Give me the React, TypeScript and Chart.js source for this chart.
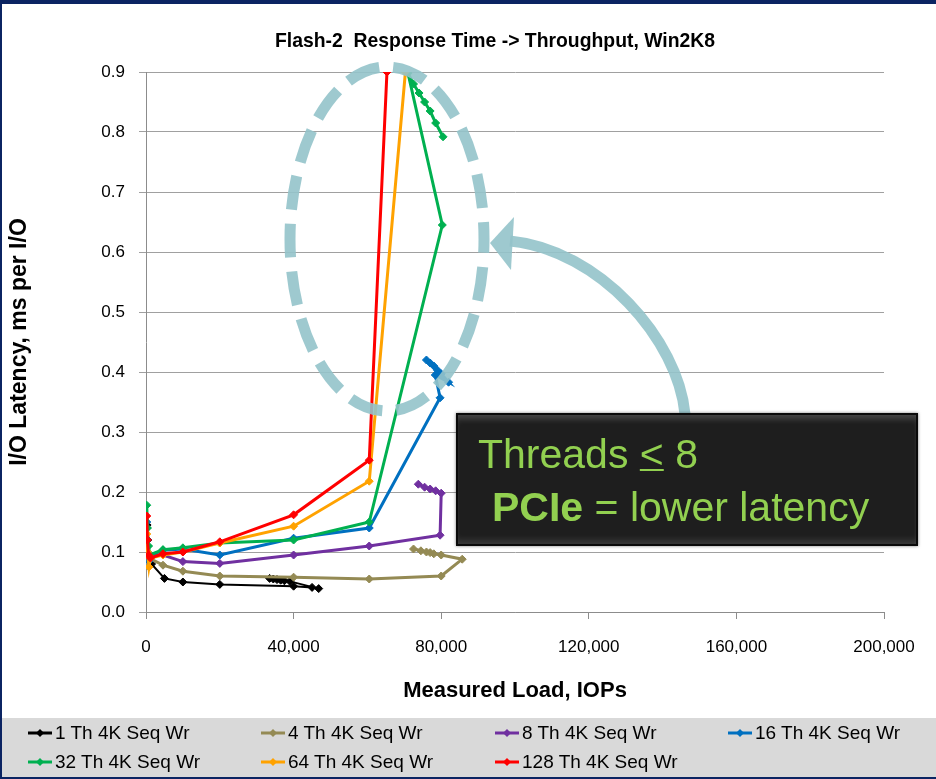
import React, { useEffect, useRef } from 'react';
import { Chart, registerables } from 'chart.js';

Chart.register(...registerables);

const TITLE = 'Flash-2  Response Time -> Throughput, Win2K8';
const X_TITLE = 'Measured Load, IOPs';
const Y_TITLE = 'I/O Latency, ms per I/O';

const seriesNames = [
  '1 Th 4K Seq Wr',
  '4 Th 4K Seq Wr',
  '8 Th 4K Seq Wr',
  '16 Th 4K Seq Wr',
  '32 Th 4K Seq Wr',
  '64 Th 4K Seq Wr',
  '128 Th 4K Seq Wr',
];
const seriesColors = ['#000000', '#948A54', '#7030A0', '#0070C0', '#00B050', '#FFA200', '#FF0000'];

const th1X = [300, 500, 800, 1500, 5000, 10000, 20000, 40000, 45000, 46800, 39000, 37500, 36500, 35500, 34500, 33500];
const th1Y = [0.145, 0.12, 0.09, 0.08, 0.056, 0.05, 0.046, 0.043, 0.041, 0.039, 0.051, 0.052, 0.053, 0.054, 0.055, 0.056];

const th4X = [200, 400, 800, 4600, 10000, 20000, 40000, 60500, 80000, 85700, 80000, 78000, 77000, 76000, 74500, 72500];
const th4Y = [0.12, 0.1, 0.09, 0.078, 0.068, 0.06, 0.058, 0.055, 0.06, 0.088, 0.095, 0.097, 0.099, 0.1, 0.102, 0.105];

const th8X = [200, 400, 900, 4600, 10000, 20000, 40000, 60500, 79700, 80000, 78500, 77000, 75500, 73800];
const th8Y = [0.14, 0.11, 0.095, 0.095, 0.084, 0.081, 0.095, 0.11, 0.128, 0.198, 0.202, 0.205, 0.208, 0.213];

const th16X = [200, 400, 800, 1200, 4600, 10000, 20000, 40000, 60500, 79700, 78400, 82000, 80000, 79000, 78000, 77000, 76000];
const th16Y = [0.15, 0.12, 0.085, 0.095, 0.103, 0.105, 0.095, 0.123, 0.14, 0.357, 0.395, 0.383, 0.397, 0.403, 0.41, 0.415, 0.42];

const th32X = [200, 400, 700, 1000, 4600, 10000, 20000, 40000, 60500, 80300, 71000, 72500, 74000, 75500, 77000, 78500, 80500];
const th32Y = [0.178, 0.14, 0.11, 0.095, 0.104, 0.107, 0.115, 0.12, 0.15, 0.645, 0.898, 0.88, 0.865, 0.85, 0.835, 0.815, 0.792];

const th64X = [200, 400, 800, 1200, 4600, 10000, 20000, 40000, 60500, 70300];
const th64Y = [0.13, 0.1, 0.075, 0.09, 0.095, 0.1, 0.115, 0.143, 0.218, 0.9];

const th128X = [200, 400, 700, 1200, 4600, 10000, 20000, 40000, 60500, 65300];
const th128Y = [0.16, 0.12, 0.095, 0.09, 0.097, 0.1, 0.117, 0.162, 0.253, 0.9];

const seriesX = [th1X, th4X, th8X, th16X, th32X, th64X, th128X];
const seriesY = [th1Y, th4Y, th8Y, th16Y, th32Y, th64Y, th128Y];

const X_MIN = 0;
const X_MAX = 200000;
const X_STEP = 40000;
const Y_MIN = 0;
const Y_MAX = 0.9;
const Y_STEP = 0.1;

const FONT = '"Liberation Sans", Arial, sans-serif';
const NAVY = '#0B2462';

const titlePlugin = {
  id: 'customTitle',
  afterDraw(chart: any) {
    const ctx = chart.ctx;
    ctx.save();
    ctx.font = `bold 21px ${FONT}`;
    const w = ctx.measureText(TITLE).width;
    const sx = 440 / w;
    ctx.translate(495, 41);
    ctx.scale(sx, 1);
    ctx.textAlign = 'center';
    ctx.textBaseline = 'middle';
    ctx.fillStyle = '#000';
    ctx.fillText(TITLE, 0, 0);
    ctx.restore();
  },
};

function LegendItem({ name, color, left, top }: { name: string; color: string; left: number; top: number }) {
  return (
    <div style={{ position: 'absolute', left, top: top - 12, height: 24, display: 'flex', alignItems: 'center', whiteSpace: 'nowrap' }}>
      <svg width={26} height={24} style={{ display: 'block' }}>
        <line x1={1} y1={12} x2={25} y2={12} stroke={color} strokeWidth={3} />
        <polygon points="13,8 17,12 13,16 9,12" fill={color} />
      </svg>
      <span style={{ fontFamily: FONT, fontSize: 19, color: '#000', marginLeft: 2, lineHeight: '24px' }}>{name}</span>
    </div>
  );
}

export default function App() {
  const canvasRef = useRef<HTMLCanvasElement | null>(null);

  useEffect(() => {
    document.body.style.margin = '0';
    const canvas = canvasRef.current;
    if (!canvas) return;
    const datasets = seriesNames.map((name, i) => ({
      label: name,
      data: seriesX[i].map((x, j) => ({ x, y: seriesY[i][j] })),
      borderColor: seriesColors[i],
      backgroundColor: seriesColors[i],
      borderWidth: i === 0 ? 2 : 3,
      pointStyle: 'rectRot',
      pointRadius: 4,
      pointHoverRadius: 4,
      pointBorderWidth: 1,
      showLine: true,
      tension: 0,
      order: 10 - i,
    }));
    const chart = new Chart(canvas, {
      type: 'scatter',
      data: { datasets: datasets as any },
      options: {
        responsive: false,
        animation: false,
        devicePixelRatio: 1,
        layout: { padding: { top: 72, right: 52, left: 0, bottom: 0 } },
        plugins: {
          legend: { display: false },
          title: { display: false },
          tooltip: { enabled: false },
        },
        scales: {
          x: {
            type: 'linear',
            position: 'bottom',
            min: X_MIN,
            max: X_MAX,
            ticks: {
              stepSize: X_STEP,
              color: '#000',
              font: { family: FONT, size: 17 },
              padding: 18,
              callback: (v: any) => Number(v).toLocaleString('en-US'),
            },
            grid: { drawOnChartArea: false, drawTicks: true, tickLength: 7, color: '#8C8C8C' },
            border: { display: true, color: '#8C8C8C', width: 1 },
            title: {
              display: true,
              text: X_TITLE,
              color: '#000',
              font: { family: FONT, size: 22, weight: 'bold' },
              padding: { top: 0, bottom: 14 },
            },
            afterFit: (s: any) => {
              s.height = 106;
              s.paddingLeft = 0;
              s.paddingRight = 0;
            },
          },
          y: {
            type: 'linear',
            min: Y_MIN,
            max: Y_MAX,
            ticks: {
              stepSize: Y_STEP,
              color: '#000',
              font: { family: FONT, size: 17 },
              padding: 14,
              callback: (v: any) => Number(v).toFixed(1),
            },
            grid: { color: '#A0A0A0', lineWidth: 1, tickLength: 7 },
            border: { display: true, color: '#8C8C8C', width: 1 },
            title: {
              display: true,
              text: Y_TITLE,
              color: '#000',
              font: { family: FONT, size: 23, weight: 'bold' },
              padding: { top: 6, bottom: 0 },
            },
            afterFit: (s: any) => {
              s.width = 146;
              s.paddingTop = 0;
              s.paddingBottom = 0;
            },
          },
        },
      },
      plugins: [titlePlugin],
    });
    return () => chart.destroy();
  }, []);

  const legendCols = [27, 260, 494, 727];
  const legendRows = [733, 762];

  return (
    <div style={{ position: 'relative', width: 936, height: 779, background: '#fff', overflow: 'hidden' }}>
      <canvas ref={canvasRef} width={936} height={718} style={{ position: 'absolute', left: 0, top: 0, width: 936, height: 718 }} />
      <svg width={936} height={718} style={{ position: 'absolute', left: 0, top: 0, pointerEvents: 'none' }}>
        <ellipse cx={387} cy={239} rx={97} ry={172} fill="none" stroke="#93C3CA" strokeOpacity={0.9} strokeWidth={11} strokeDasharray="34 14" strokeDashoffset={20} />
        <path d="M 685 414 C 678 340, 600 250, 510 241" fill="none" stroke="#93C3CA" strokeOpacity={0.9} strokeWidth={11} />
        <polygon points="490,243 514,217 511,270" fill="#93C3CA" fillOpacity={0.9} />
      </svg>
      <div
        style={{
          position: 'absolute',
          left: 456,
          top: 413,
          width: 462,
          height: 133,
          boxSizing: 'border-box',
          background: '#1E1E1E',
          border: '2px solid #0A0A0A',
          boxShadow: 'inset 0 7px 6px -3px rgba(255,255,255,0.18), inset 0 -7px 6px -3px rgba(255,255,255,0.12), 0 0 3px rgba(0,0,0,0.5)',
        }}
      />
      <div style={{ position: 'absolute', left: 478, top: 433, fontFamily: FONT, fontSize: 41, lineHeight: '42px', color: '#92D050', whiteSpace: 'pre' }}>
        {'Threads '}
        <span style={{ textDecoration: 'underline', textDecorationThickness: 2 }}>{'<'}</span>
        {' 8'}
      </div>
      <div style={{ position: 'absolute', left: 492, top: 486, fontFamily: FONT, fontSize: 41, lineHeight: '42px', color: '#92D050', whiteSpace: 'pre' }}>
        <b>PCIe</b>
        {' = lower latency'}
      </div>
      <div style={{ position: 'absolute', left: 0, top: 718, width: 936, height: 59, background: '#D9D9D9' }} />
      {seriesNames.map((name, i) => (
        <LegendItem key={name} name={name} color={seriesColors[i]} left={legendCols[i % 4]} top={legendRows[Math.floor(i / 4)]} />
      ))}
      <div style={{ position: 'absolute', left: 0, top: 0, width: 936, height: 4, background: NAVY }} />
      <div style={{ position: 'absolute', left: 0, top: 0, width: 2, height: 779, background: NAVY }} />
      <div style={{ position: 'absolute', left: 0, top: 777, width: 936, height: 2, background: NAVY }} />
    </div>
  );
}
